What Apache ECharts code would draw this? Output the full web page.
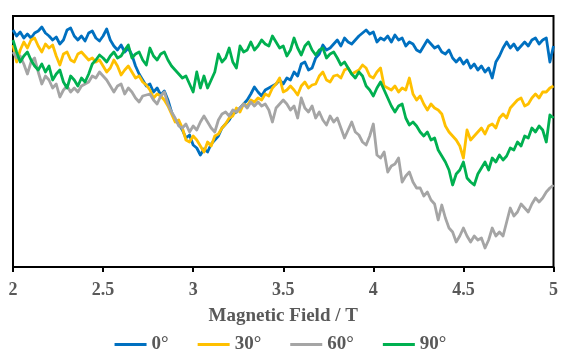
<!DOCTYPE html>
<html>
<head>
<meta charset="utf-8">
<script src="https://cdn.jsdelivr.net/npm/echarts@6/dist/echarts.min.js"></script>
<style>
  html, body { margin: 0; padding: 0; background: #fff; }
  #chart { width: 561px; height: 351px; }
</style>
</head>
<body>
<div id="chart"></div>
<script>
// Magnetic field sweep, 2.00 T to 5.00 T in 0.02 T steps
const fieldStart = 2.0;
const fieldStep = 0.02;
const fieldCount = 151;

// Signal intensity (arbitrary units) for each sample orientation
const angle0 = [
  237,231,235,229,233,229,234,236,240,234,
  231,227,230,223,227,237,239,231,227,231,
  226,234,236,229,226,231,238,227,221,217,
  222,215,219,212,201,193,187,181,183,175,
  179,172,176,167,155,147,143,137,129,132,
  122,119,112,118,115,123,127,131,139,143,
  147,153,155,159,163,167,173,180,175,171,
  177,179,181,183,187,183,189,187,195,191,
  203,205,197,199,209,213,222,217,219,223,
  227,221,229,225,223,227,231,234,237,233,
  235,225,229,227,231,225,232,227,229,221,
  225,223,217,215,221,227,223,219,221,215,
  213,217,209,205,209,203,207,199,203,197,
  201,195,199,189,205,211,219,225,219,223,
  217,221,225,221,227,229,223,227,229,205,221
];
const angle30 = [
  222,205,217,225,219,227,229,221,215,223,
  219,222,211,202,213,215,207,205,213,215,
  211,207,209,205,207,201,195,199,207,201,
  192,197,201,195,189,191,185,182,177,169,
  173,171,167,161,153,145,147,139,127,125,
  131,127,121,115,125,121,131,133,139,143,
  149,151,159,155,163,161,167,165,169,167,
  173,171,179,183,189,175,177,181,177,172,
  181,185,179,182,183,191,195,187,185,191,
  192,189,197,199,193,195,197,202,199,191,
  189,195,199,181,179,177,181,175,179,177,
  189,173,167,171,163,157,163,159,157,153,
  141,135,131,127,121,109,137,127,131,135,
  139,133,141,143,139,149,153,149,159,163,
  167,169,161,163,169,173,169,175,175,179,181
];
const angle60 = [
  215,209,211,203,193,205,209,195,183,191,
  187,179,183,170,177,181,175,179,175,181,
  183,185,191,189,195,191,187,181,175,181,
  183,173,179,175,169,165,171,172,173,167,
  163,171,175,163,155,149,141,139,143,135,
  141,137,145,151,145,139,135,147,153,155,
  151,157,155,159,163,159,165,161,165,161,
  163,157,145,159,163,167,163,157,161,149,
  169,159,155,161,149,155,147,142,151,145,
  149,139,129,137,145,135,132,125,122,131,
  143,112,109,115,95,101,103,109,85,91,
  95,85,79,79,71,75,67,63,47,62,
  49,39,35,25,31,39,31,25,31,27,
  29,19,27,39,31,35,31,45,59,51,
  55,63,59,55,63,69,65,69,75,79,82
];
const angle90 = [
  227,215,205,211,215,207,201,197,203,195,
  201,187,193,197,185,179,191,187,181,189,
  185,193,203,207,212,209,205,211,215,209,
  211,217,222,209,213,215,207,202,219,211,
  207,213,215,207,201,197,193,189,191,183,
  175,195,179,191,179,187,195,213,205,209,
  219,205,199,221,215,217,225,217,221,227,
  223,221,231,225,219,221,211,217,229,219,
  212,221,225,217,212,217,219,209,213,215,
  209,202,205,199,193,189,195,191,181,177,
  171,179,185,177,169,161,155,161,163,149,
  142,145,141,135,131,135,127,129,117,111,
  105,97,82,93,97,105,89,85,82,93,
  99,105,97,109,105,112,107,111,119,117,
  125,121,131,129,139,135,141,137,125,152,149
];

const seriesNames = ['0°', '30°', '60°', '90°'];
const seriesValues = [angle0, angle30, angle60, angle90];
const seriesColors = ['#0070C0', '#FFC000', '#A5A5A5', '#00B050'];

const fields = [];
for (let i = 0; i < fieldCount; i++) {
  fields.push(+(fieldStart + i * fieldStep).toFixed(2));
}

const serifBold = {
  fontFamily: '"Liberation Serif", "Times New Roman", serif',
  fontWeight: 'bold',
  color: '#595959'
};

const chart = echarts.init(document.getElementById('chart'), null, { renderer: 'canvas' });

chart.setOption({
  animation: false,
  backgroundColor: '#fff',
  grid: {
    left: 13, right: 4, top: 16, bottom: 84,
    show: true, borderColor: '#000', borderWidth: 2,
    containLabel: false
  },
  xAxis: {
    type: 'value',
    min: 2, max: 5, interval: 0.5,
    name: 'Magnetic Field / T',
    nameLocation: 'middle',
    nameGap: 40,
    nameTextStyle: Object.assign({ fontSize: 19 }, serifBold),
    axisLine: { show: true, onZero: false, lineStyle: { color: '#000', width: 2 } },
    axisTick: { show: true, inside: false, length: 5, lineStyle: { color: '#000', width: 2 } },
    axisLabel: Object.assign({ fontSize: 18, margin: 14 }, serifBold),
    splitLine: { show: false }
  },
  yAxis: {
    type: 'value',
    min: 0, max: 251,
    show: false,
    splitLine: { show: false }
  },
  legend: {
    top: 330,
    left: 'center',
    itemWidth: 32,
    itemHeight: 3,
    itemGap: 29,
    icon: 'rect',
    textStyle: Object.assign({ fontSize: 19 }, serifBold),
    data: seriesNames
  },
  series: seriesNames.map((name, k) => ({
    name: name,
    type: 'line',
    data: fields.map((f, i) => [f, seriesValues[k][i]]),
    showSymbol: false,
    symbol: 'none',
    lineStyle: { color: seriesColors[k], width: 2.8, join: 'round' },
    itemStyle: { color: seriesColors[k] },
    z: 2 + k
  }))
});
</script>
</body>
</html>
